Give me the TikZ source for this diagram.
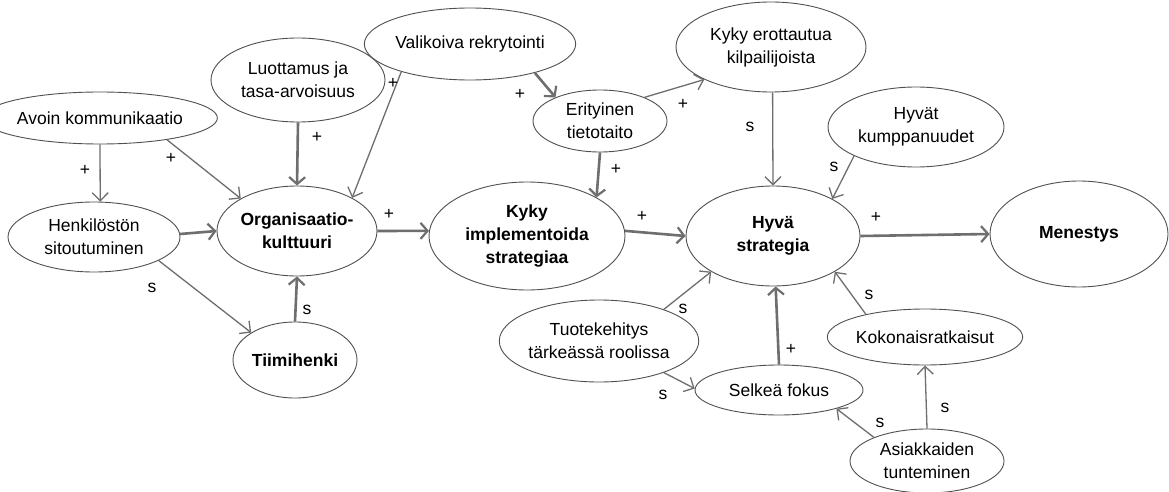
\documentclass[tikz,border=0pt]{standalone}
\usepackage{fontspec}
\setmainfont{Liberation Sans}
\usetikzlibrary{shapes.geometric,arrows.meta}
\definecolor{edgegray}{HTML}{6E6E6E}
\definecolor{rimgray}{HTML}{505050}
\tikzset{
  bub/.style={ellipse,draw=rimgray,line width=0.9pt,fill=white,inner sep=0pt,align=center,
    font=\fontsize{17.5}{23}\selectfont},
  bubb/.style={bub,font=\fontsize{17.5}{23}\selectfont\bfseries},
  thin/.style={draw=edgegray,line width=1.3pt,-{Straight Barb[length=8pt,width=16pt,line width=1.3pt]}},
  thick/.style={draw=edgegray,line width=2.6pt,-{Straight Barb[length=7pt,width=16pt,line width=2.2pt]}},
  lab/.style={font=\fontsize{17.5}{18}\selectfont,inner sep=0pt}
}
\begin{document}
\begin{tikzpicture}[x=1pt,y=-1pt]
\useasboundingbox[fill=white] (0,0) rectangle (1169,492);
\node[bub,minimum width=184pt,minimum height=52pt] (avoin) at (100,118) {Avoin kommunikaatio};
\node[bub,minimum width=172pt,minimum height=70pt] (henk) at (94,237) {Henkilöstön\\sitoutuminen};
\node[bubb,minimum width=160pt,minimum height=90pt] (org) at (297,231) {Organisaatio-\\kulttuuri};
\node[bubb,minimum width=124pt,minimum height=76pt] (tiimi) at (295,360) {Tiimihenki};
\node[bub,minimum width=174pt,minimum height=84pt] (luott) at (298,80) {Luottamus ja\\tasa-arvoisuus};
\node[bub,minimum width=166pt,minimum height=72pt] (vali) at (470,44) {Valikoiva rekrytointi};
\node[bub,minimum width=134pt,minimum height=62pt] (erit) at (600,121) {Erityinen\\tietotaito};
\node[bub,minimum width=190pt,minimum height=90pt] (erott) at (771,47) {Kyky erottautua\\kilpailijoista};
\node[bub,minimum width=176pt,minimum height=80pt] (kump) at (916,127) {Hyvät\\kumppanuudet};
\node[bubb,minimum width=174pt,minimum height=100pt] (hyva) at (773,236) {Hyvä\\strategia};
\node[bubb,minimum width=178pt,minimum height=106pt] (men) at (1079,234) {Menestys};
\node[bubb,minimum width=196pt,minimum height=108pt] (impl) at (527,236) {Kyky\\implementoida\\strategiaa};
\node[bub,minimum width=172pt,minimum height=82pt] (tuote) at (599,341) {Tuotekehitys\\tärkeässä roolissa};
\node[bub,minimum width=168pt,minimum height=50pt] (selk) at (779,390) {Selkeä fokus};
\node[bub,minimum width=160pt,minimum height=56pt] (kok) at (925,337) {Kokonaisratkaisut};
\node[bub,minimum width=154pt,minimum height=64pt] (asi) at (927,461) {Asiakkaiden\\tunteminen};

\draw[thin] (avoin.south) -- (henk.80);
\draw[thin] (avoin.-18) -- (org.150);
\draw[thick] (henk.2) -- (org.180);
\draw[thick] (luott.south) -- (org.north);
\draw[thin] (vali.202) -- (org.31);
\draw[thin] (henk.-20) -- (tiimi.148);
\draw[thick] (tiimi.north) -- (org.south);
\draw[thick] (org.0) -- (impl.177);
\draw[thick] (vali.-24) -- (erit.152);
\draw[thin] (erit.28) -- (erott.206);
\draw[thick] (erit.south) -- (impl.29);
\draw[thick] (impl.3) -- (hyva.180);
\draw[thin] (erott.-88) -- (hyva.north);
\draw[thin] (kump.205) -- (hyva.32);
\draw[thick] (hyva.east) -- (men.west);
\draw[thin] (tuote.26) -- (hyva.210);
\draw[thin] (tuote.-26) -- (selk.179);
\draw[thick] (selk.north) -- (hyva.-87);
\draw[thin] (kok.159) -- (hyva.-30);
\draw[thin] (asi.156) -- (selk.-18);
\draw[thin] (asi.north) -- (kok.south);

\node[lab] (l1) at (85,170) {+};
\node[lab] (l2) at (171,158) {+};
\node[lab] (l3) at (317,137) {+};
\node[lab] (l4) at (393,83) {+};
\node[lab] (l5) at (389,214) {+};
\node[lab] (l6) at (152,288) {s};
\node[lab] (l7) at (307,310) {s};
\node[lab] (l8) at (520,94) {+};
\node[lab] (l9) at (683,104) {+};
\node[lab] (l10) at (750,127) {s};
\node[lab] (l11) at (616,169) {+};
\node[lab] (l12) at (642,216) {+};
\node[lab] (l13) at (834,167) {s};
\node[lab] (l14) at (876,217) {+};
\node[lab] (l15) at (683,309) {s};
\node[lab] (l16) at (663,395) {s};
\node[lab] (l17) at (791,349) {+};
\node[lab] (l18) at (869,295) {s};
\node[lab] (l19) at (880,423) {s};
\node[lab] (l20) at (945,408) {s};
\end{tikzpicture}
\end{document}
